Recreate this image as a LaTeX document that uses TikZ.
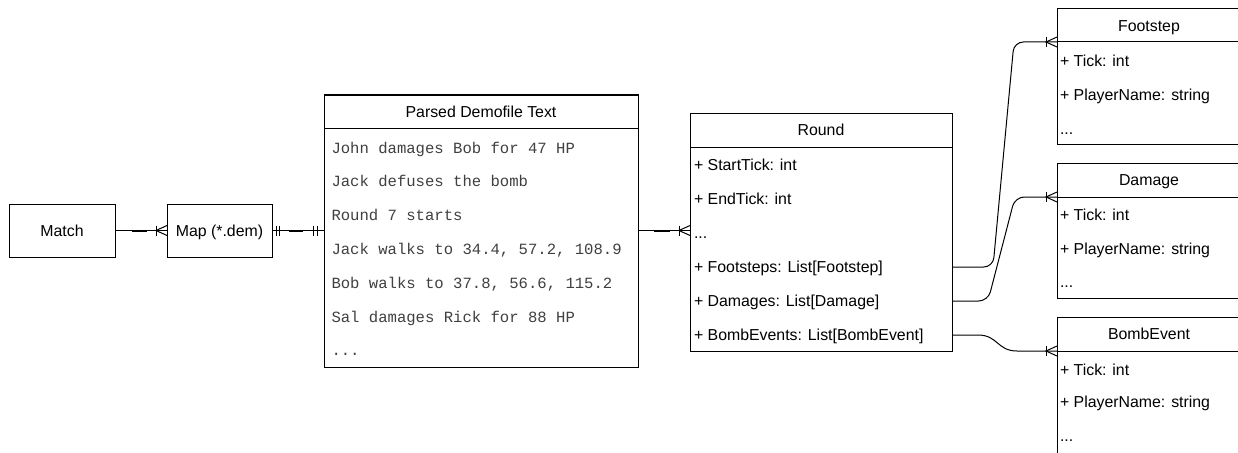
\documentclass[tikz,border=0pt]{standalone}
\usepackage{fontspec}
\setmainfont{Liberation Sans}
\newfontfamily\monof{Liberation Mono}
\usetikzlibrary{calc}
\newcommand\sz{\fontsize{11.9pt}{14pt}\selectfont}
\newcommand\msz{\monof\fontsize{11.7pt}{14pt}\selectfont}
\newcommand\crowat[1]{%
  \draw[ln] (#1) ++(-11,-5) -- ++(0,10);
  \draw[ln] (#1) ++(0,-5) -- ++(-11,5) -- ++(11,5);}
\tikzset{
  ln/.style={line width=0.75pt, line cap=butt},
  ent/.style={draw, line width=0.75pt, fill=white, inner sep=0pt, outer sep=0pt,
    anchor=north west, font=\sz, text height=8.5pt, text depth=0pt},
  row/.style={anchor=west, inner sep=0pt, outer sep=0pt, font=\sz,
    text height=8.5pt, text depth=0pt},
  mrow/.style={anchor=west, inner sep=0pt, outer sep=0pt, font=\msz,
    text=black!75, text height=7.5pt, text depth=0pt},
  thickseg/.style={line width=1.5pt},
  erline/.style={ln, rounded corners=7pt}
}
\begin{document}
\begin{tikzpicture}[x=0.75pt,y=-0.75pt]
\useasboundingbox (0,0) rectangle (1238,453);
\clip (0,0) rectangle (1238,453);
% entities
\node[ent, minimum width=106*0.75pt, minimum height=53*0.75pt] (match) at (9,204) {Match};
\node[ent, minimum width=105*0.75pt, minimum height=53*0.75pt] (map) at (167,204) {Map (*.dem)};
\node[ent, minimum width=314*0.75pt, minimum height=33*0.75pt] (parsedH) at (324,95) {Parsed Demofile Text};
\node[ent, minimum width=314*0.75pt, minimum height=239*0.75pt] (parsedB) at (324,128) {};
\node[ent, minimum width=262*0.75pt, minimum height=34*0.75pt] (roundH) at (690,113) {Round};
\node[ent, minimum width=262*0.75pt, minimum height=204*0.75pt] (roundB) at (690,147) {};
\node[ent, minimum width=184*0.75pt, minimum height=33*0.75pt] (footH) at (1057,9) {Footstep};
\node[ent, minimum width=184*0.75pt, minimum height=102*0.75pt] (footB) at (1057,42) {};
\node[ent, minimum width=184*0.75pt, minimum height=34*0.75pt] (dmgH) at (1057,163) {Damage};
\node[ent, minimum width=184*0.75pt, minimum height=101*0.75pt] (dmgB) at (1057,197) {};
\node[ent, minimum width=184*0.75pt, minimum height=34*0.75pt] (bombH) at (1057,317) {BombEvent};
\node[ent, minimum width=184*0.75pt, minimum height=104*0.75pt] (bombB) at (1057,351) {};
% parsed rows
\node[mrow] (p1) at (331.5,148) {John damages Bob for 47 HP};
\node[mrow] (p2) at (331.5,181.8) {Jack defuses the bomb};
\node[mrow] (p3) at (331.5,215.6) {Round 7 starts};
\node[mrow] (p4) at (331.5,249.4) {Jack walks to 34.4, 57.2, 108.9};
\node[mrow] (p5) at (331.5,283.2) {Bob walks to 37.8, 56.6, 115.2};
\node[mrow] (p6) at (331.5,317) {Sal damages Rick for 88 HP};
\node[mrow] (p7) at (331.5,350.8) {...};
% round rows
\node[row] (r1) at (694,165) {+ StartTick: int};
\node[row] (r2) at (694,199) {+ EndTick: int};
\node[row] (r3) at (694,233) {...};
\node[row] (r4) at (694,267) {+ Footsteps: List[Footstep]};
\node[row] (r5) at (694,301) {+ Damages: List[Damage]};
\node[row] (r6) at (694,335) {+ BombEvents: List[BombEvent]};
% footstep rows
\node[row] (f1) at (1060,61.3) {+ Tick: int};
\node[row] (f2) at (1060,95.3) {+ PlayerName: string};
\node[row] (f3) at (1060,129.3) {...};
% damage rows
\node[row] (d1) at (1060,215.3) {+ Tick: int};
\node[row] (d2) at (1060,248.8) {+ PlayerName: string};
\node[row] (d3) at (1060,282.3) {...};
% bomb rows
\node[row] (b1) at (1060,369.7) {+ Tick: int};
\node[row] (b2) at (1060,402) {+ PlayerName: string};
\node[row] (b3) at (1060,436) {...};
% Match -> Map
\draw[ln] (match.east) -- (map.west);
\draw[thickseg] (match.east) ++(17,0) -- ++(15,0);
\crowat{map.west}
% Map -> Parsed
\draw[ln] (map.east) -- (map.east -| parsedB.west);
\draw[thickseg] (map.east) ++(17,0) -- ++(14,0);
\draw[ln] (map.east) ++(4,-5) -- ++(0,10);
\draw[ln] (map.east) ++(7.5,-5) -- ++(0,10);
\draw[ln] (map.east -| parsedB.west) ++(-10.5,-5) -- ++(0,10);
\draw[ln] (map.east -| parsedB.west) ++(-7,-5) -- ++(0,10);
% Parsed -> Round
\draw[ln] (parsedB.east |- match.east) -- (roundB.west |- match.east);
\draw[thickseg] (parsedB.east |- match.east) ++(16,0) -- ++(16,0);
\crowat{roundB.west |- match.east}
% Round -> Footstep
\draw[erline] (roundB.east |- r4) -- ++(41,0) -- ($(footH.south west)+(-43,0)$) -- (footH.south west);
\crowat{footH.south west}
% Round -> Damage
\draw[erline] (roundB.east |- r5) -- ++(36,0) -- ($(dmgH.south west)+(-42,0)$) -- (dmgH.south west);
\crowat{dmgH.south west}
% Round -> BombEvent
\draw[ln] (roundB.east |- r6) -- ++(26,0)
  .. controls ++(20,0) and ($(bombH.south west)+(-60,0)$) .. ($(bombH.south west)+(-40,0)$)
  -- (bombH.south west);
\crowat{bombH.south west}
\end{tikzpicture}
\end{document}
